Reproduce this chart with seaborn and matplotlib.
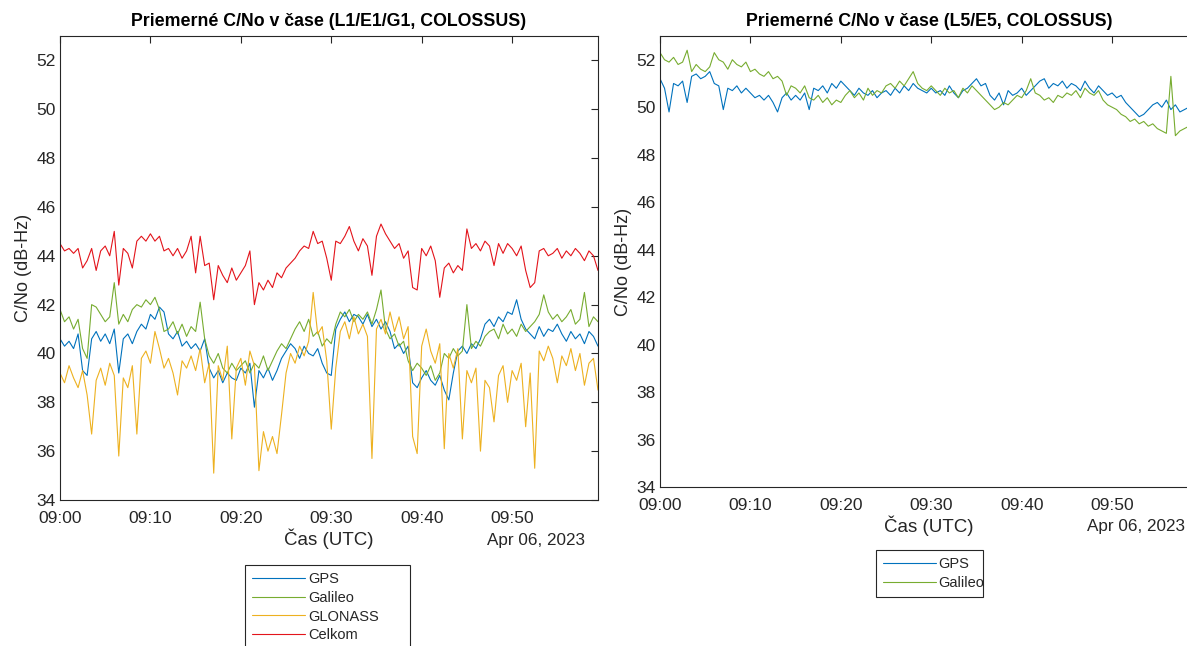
import numpy as np
import pandas as pd
import matplotlib
matplotlib.use("Agg")
import matplotlib.pyplot as plt
import matplotlib.dates as mdates
import seaborn as sns

# ---------------- data ----------------
times = pd.date_range("2023-04-06 09:00:00", periods=120, freq="30s")

names_left = ["GPS", "Galileo", "GLONASS", "Celkom"]
names_right = ["GPS", "Galileo"]

l1_gps = [
    40.6, 40.3, 40.5, 40.2, 40.8, 39.3, 39.1, 40.6, 40.9, 40.5,
    40.8, 40.4, 41.0, 39.2, 40.6, 40.8, 40.4, 40.9, 41.2, 41.0,
    41.6, 41.4, 41.9, 41.7, 40.8, 40.6, 40.9, 40.3, 40.5, 40.2,
    40.4, 40.1, 40.6, 39.4, 39.0, 39.3, 38.8, 39.2, 39.0, 38.9,
    39.4, 39.2, 39.6, 37.8, 39.3, 39.0, 39.4, 38.9, 39.3, 39.8,
    40.1, 40.4, 40.2, 39.8, 40.3, 40.0, 39.9, 40.2, 39.6, 39.2,
    39.1, 41.0, 41.4, 41.7, 41.3, 41.6, 41.5, 41.2, 41.6, 41.1,
    41.4, 41.0, 41.3, 40.9, 40.2, 40.4, 40.0, 40.3, 38.8, 38.6,
    39.0, 39.3, 38.9, 38.7, 39.1, 38.5, 38.1, 39.2, 40.1, 40.3,
    40.0, 40.4, 40.2, 40.6, 41.2, 41.4, 41.1, 41.5, 41.3, 41.7,
    41.6, 42.2, 41.4, 41.0, 40.8, 40.6, 41.1, 40.7, 41.0, 40.9,
    41.2, 40.8, 40.5, 40.9, 40.6, 40.8, 40.4, 40.9, 40.7, 40.3]

l1_galileo = [
    41.8, 41.3, 41.5, 41.0, 41.4, 40.2, 39.8, 42.0, 41.9, 41.6,
    41.3, 41.5, 42.9, 41.2, 41.6, 41.3, 41.8, 42.0, 41.9, 42.2,
    42.0, 42.3, 41.8, 40.9, 41.0, 41.3, 40.8, 41.2, 40.7, 41.1,
    40.9, 42.1, 40.6, 39.9, 39.6, 40.0, 39.4, 39.2, 39.6, 39.3,
    39.5, 39.7, 39.2, 39.6, 39.4, 39.9, 39.3, 39.7, 40.1, 40.4,
    40.2, 40.6, 41.0, 41.3, 40.9, 41.4, 40.7, 40.9, 40.3, 40.6,
    40.4, 41.2, 41.7, 41.5, 41.8, 41.3, 41.6, 41.4, 41.7, 41.2,
    41.8, 42.6, 41.0, 40.6, 40.8, 40.3, 40.5, 39.7, 39.3, 39.6,
    39.4, 39.1, 39.5, 38.9, 39.2, 40.0, 39.8, 40.2, 39.9, 40.1,
    42.0, 40.2, 40.5, 40.3, 40.7, 40.9, 41.0, 40.6, 41.2, 40.8,
    41.0, 40.7, 41.2, 40.9, 41.1, 41.3, 41.6, 42.4, 41.7, 41.4,
    41.6, 41.3, 41.5, 41.8, 41.2, 41.4, 42.5, 41.1, 41.5, 41.3]

l1_glonass = [
    39.2, 38.8, 39.5, 39.0, 38.6, 39.3, 38.3, 36.7, 38.9, 39.4,
    38.7, 39.6, 39.1, 35.8, 39.0, 38.6, 39.5, 36.7, 39.8, 40.1,
    39.6, 40.9, 40.2, 39.4, 39.8, 39.2, 38.3, 39.7, 39.4, 39.9,
    39.3, 40.2, 38.8, 39.6, 35.1, 39.5, 38.9, 40.3, 36.5, 39.4,
    39.8, 38.7, 40.1, 39.5, 35.2, 36.8, 36.0, 36.6, 35.9, 37.5,
    39.2, 40.0, 39.6, 40.3, 39.9, 40.5, 42.5, 40.8, 41.1, 39.7,
    36.9, 39.4, 40.9, 41.3, 40.6, 41.5, 40.8, 41.2, 40.7, 35.7,
    41.0, 41.4, 40.8, 41.7, 40.9, 41.5, 40.6, 41.1, 36.6, 35.9,
    40.3, 41.0, 40.1, 39.6, 40.4, 36.1, 40.0, 39.4, 40.2, 36.5,
    39.3, 38.8, 39.4, 36.0, 38.9, 38.6, 37.2, 39.1, 39.5, 38.0,
    39.3, 38.9, 39.6, 37.0, 39.2, 35.3, 40.1, 39.7, 40.3, 39.8,
    38.8, 39.9, 39.5, 40.2, 39.3, 40.0, 38.7, 39.6, 39.8, 38.5]

l1_celkom = [
    44.5, 44.2, 44.3, 44.1, 44.3, 43.5, 43.8, 44.3, 43.4, 44.2,
    44.4, 44.0, 45.0, 42.8, 44.3, 44.1, 43.5, 44.6, 44.8, 44.6,
    44.9, 44.6, 44.8, 44.2, 44.3, 44.0, 44.3, 43.9, 44.2, 44.8,
    43.3, 44.8, 43.6, 43.7, 42.2, 43.6, 43.2, 42.9, 43.5, 43.0,
    43.3, 43.6, 44.2, 42.0, 42.9, 42.6, 43.0, 42.7, 43.3, 43.1,
    43.5, 43.7, 43.9, 44.2, 44.4, 44.3, 45.0, 44.5, 44.6, 43.9,
    43.0, 44.6, 44.5, 44.8, 45.2, 44.6, 44.2, 44.7, 44.4, 43.2,
    44.8, 45.3, 44.9, 44.6, 44.3, 44.5, 43.9, 44.2, 42.7, 42.6,
    44.3, 44.0, 44.4, 43.8, 42.3, 43.5, 43.7, 43.3, 43.6, 43.4,
    45.1, 44.3, 44.5, 44.2, 44.6, 44.4, 43.6, 44.5, 44.1, 44.5,
    44.3, 44.0, 44.4, 43.4, 42.7, 42.9, 44.2, 44.3, 44.0, 44.1,
    44.3, 43.9, 44.2, 44.0, 44.3, 44.1, 43.8, 44.2, 44.0, 43.4]

l5_gps = [
    51.2, 50.8, 49.8, 51.0, 50.9, 51.1, 50.2, 51.3, 51.4, 51.2,
    51.3, 51.5, 51.0, 50.9, 49.9, 50.8, 50.7, 50.9, 50.6, 50.8,
    50.6, 50.4, 50.5, 50.3, 50.5, 50.2, 49.8, 50.4, 50.6, 50.3,
    50.5, 50.3, 50.6, 49.9, 50.8, 50.7, 50.9, 50.6, 51.0, 50.8,
    51.1, 50.9, 50.7, 50.5, 50.8, 50.6, 50.5, 50.7, 50.4, 50.6,
    50.7, 50.5, 50.8, 50.6, 50.9, 50.7, 51.0, 50.8, 50.7, 50.6,
    50.8, 50.6, 50.7, 50.5, 50.9, 50.6, 50.4, 50.7, 50.8, 51.0,
    51.2, 50.9, 51.0, 50.5, 50.3, 50.6, 50.1, 50.7, 50.5, 50.6,
    50.8, 50.5, 50.7, 50.9, 51.1, 51.2, 50.8, 51.0, 50.9, 51.1,
    50.8, 51.0, 50.9, 50.7, 51.1, 50.8, 50.6, 50.9, 50.7, 50.5,
    50.6, 50.4, 50.5, 50.2, 50.0, 49.8, 49.6, 49.7, 49.9, 50.1,
    50.2, 50.0, 50.3, 49.9, 50.1, 49.8, 49.9, 50.0, 49.8, 49.9]

l5_galileo = [
    52.3, 52.0, 51.9, 52.1, 51.8, 51.9, 52.4, 51.5, 51.8, 51.6,
    51.5, 51.7, 52.3, 52.0, 51.9, 51.6, 52.0, 51.8, 51.7, 51.9,
    51.5, 51.6, 51.4, 51.3, 51.5, 51.2, 51.3, 51.1, 50.5, 50.9,
    50.8, 50.6, 50.9, 50.4, 50.3, 50.5, 50.2, 50.4, 50.1, 50.3,
    50.2, 50.5, 50.7, 50.4, 50.6, 50.3, 50.8, 50.5, 50.7, 50.6,
    50.9, 51.0, 50.8, 51.1, 50.9, 51.2, 51.5, 51.0, 50.8, 50.7,
    50.9, 50.7, 50.5, 50.8, 50.6, 50.7, 50.4, 50.8, 50.6, 50.9,
    50.7, 50.5, 50.3, 50.1, 49.9, 50.0, 50.2, 50.1, 50.3, 50.5,
    50.4, 50.7, 51.2, 50.6, 50.5, 50.3, 50.4, 50.2, 50.5, 50.4,
    50.6, 50.5, 50.7, 50.4, 50.8, 50.6, 50.5, 50.7, 50.3, 50.1,
    50.0, 49.9, 49.7, 49.6, 49.4, 49.5, 49.3, 49.4, 49.2, 49.3,
    49.1, 49.0, 48.9, 51.3, 48.8, 49.0, 49.1, 49.2, 49.3, 49.5]

y_ticks = [34, 36, 38, 40, 42, 44, 46, 48, 50, 52]
colors = {"GPS": "#0072BD", "Galileo": "#77AC30", "GLONASS": "#EDB120", "Celkom": "#E3141B"}

# ---------------- figure ----------------
sns.set_theme(style="white")
plt.rcParams["font.family"] = ["Liberation Sans", "DejaVu Sans"]

W, H = 1187, 646
fig = plt.figure(figsize=(W / 100, H / 100), dpi=100)
ax1 = fig.add_axes([60 / W, (H - 500) / H, 538 / W, 464 / H])
ax2 = fig.add_axes([660 / W, (H - 487) / H, 538 / W, 451 / H])

df_left = pd.DataFrame({
    "time": np.tile(times, 4),
    "cn0": l1_gps + l1_galileo + l1_glonass + l1_celkom,
    "system": np.repeat(names_left, len(times)),
})
df_right = pd.DataFrame({
    "time": np.tile(times, 2),
    "cn0": l5_gps + l5_galileo,
    "system": np.repeat(names_right, len(times)),
})

sns.lineplot(data=df_left, x="time", y="cn0", hue="system", hue_order=names_left,
             palette=colors, estimator=None, linewidth=0.8, ax=ax1)
sns.lineplot(data=df_right, x="time", y="cn0", hue="system", hue_order=names_right,
             palette=colors, estimator=None, linewidth=0.8, ax=ax2)

dark = "#262626"
for ax, title, leg_box, axh in [
    (ax1, "Priemerné C/No v čase (L1/E1/G1, COLOSSUS)", (0.344, -0.14, 0.307, 0.0), 464),
    (ax2, "Priemerné C/No v čase (L5/E5, COLOSSUS)", (0.401, -0.14, 0.199, 0.0), 451),
]:
    ax.set_xlim(times[0], times[-1])
    ax.set_ylim(34, 53)
    ax.set_yticks(y_ticks)
    ax.xaxis.set_major_locator(mdates.MinuteLocator(byminute=[0, 10, 20, 30, 40, 50]))
    ax.xaxis.set_major_formatter(mdates.DateFormatter("%H:%M"))
    for s in ax.spines.values():
        s.set_color(dark)
        s.set_linewidth(0.8)
    ax.tick_params(direction="in", length=5, width=0.8, top=True, right=True,
                   labelsize=12.5, colors=dark)
    ax.tick_params(axis="x", pad=8)
    ax.tick_params(axis="y", pad=3)
    ax.set_title(title, fontsize=12.8, fontweight="bold", color="black", pad=7)
    ax.set_xlabel("Čas (UTC)", fontsize=13.5, color=dark, labelpad=2)
    ax.set_ylabel("C/No (dB-Hz)", fontsize=13, color=dark, labelpad=3)
    ax.text(0.976, -40 / axh, "Apr 06, 2023", transform=ax.transAxes, ha="right",
            va="center", fontsize=12.3, color=dark)
    handles, labels = ax.get_legend_handles_labels()
    leg = ax.legend(handles, labels, loc="upper left", bbox_to_anchor=leg_box,
                    mode="expand", frameon=True, fancybox=False, framealpha=1,
                    edgecolor=dark, fontsize=10.5, handlelength=3.6,
                    handletextpad=0.2, borderpad=0.5, labelspacing=0.32,
                    borderaxespad=0)
    leg.get_frame().set_linewidth(0.8)
    for ln in leg.get_lines():
        ln.set_linewidth(0.8)

fig.savefig("out.png", dpi=100)
